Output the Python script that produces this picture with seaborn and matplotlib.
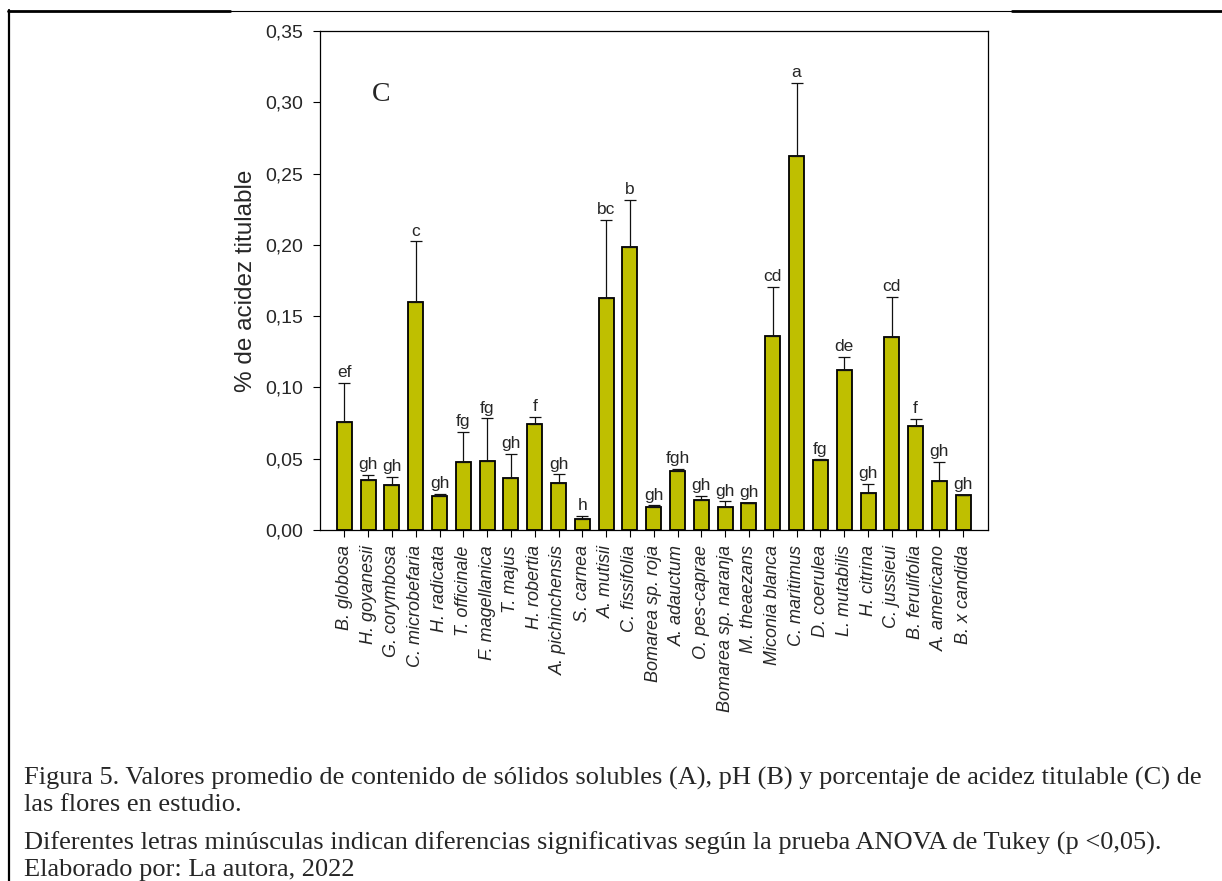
import matplotlib
matplotlib.use("Agg")
import matplotlib.pyplot as plt
import seaborn as sns
from matplotlib.lines import Line2D

# especies (eje x)
especies = ["B. globosa", "H. goyanesii", "G. corymbosa", "C. microbefaria", "H. radicata",
            "T. officinale", "F. magellanica", "T. majus", "H. robertia", "A. pichinchensis",
            "S. carnea", "A. mutisii", "C. fissifolia", "Bomarea sp. roja", "A. adauctum",
            "O. pes-caprae", "Bomarea sp. naranja", "M. theaezans", "Miconia blanca",
            "C. maritimus", "D. coerulea", "L. mutabilis", "H. citrina", "C. jussieui",
            "B. ferulifolia", "A. americano", "B. x candida"]

# % de acidez titulable (media) y error superior
acidez = [0.076, 0.0351, 0.0313, 0.160, 0.0238, 0.0477, 0.0486, 0.0365, 0.0746, 0.0332,
          0.0075, 0.1625, 0.1987, 0.0163, 0.0416, 0.0208, 0.0164, 0.0189, 0.1363,
          0.2626, 0.0489, 0.1122, 0.0257, 0.1356, 0.0732, 0.0346, 0.0248]
error = [0.0273, 0.0037, 0.0057, 0.0425, 0.0017, 0.0210, 0.0297, 0.0168, 0.0049, 0.0058,
         0.0023, 0.0552, 0.0328, 0.0010, 0.0010, 0.0033, 0.0037, 0.0003, 0.0344,
         0.0512, 0.0007, 0.0091, 0.0068, 0.0278, 0.0049, 0.0131, 0.0]

# letras de Tukey
letras = ["ef", "gh", "gh", "c", "gh", "fg", "fg", "gh", "f", "gh", "h", "bc", "b", "gh",
          "fgh", "gh", "gh", "gh", "cd", "a", "fg", "de", "gh", "cd", "f", "gh", "gh"]

yticks = [0.0, 0.05, 0.10, 0.15, 0.20, 0.25, 0.30, 0.35]

caption = [
    "Figura 5. Valores promedio de contenido de sólidos solubles (A), pH (B) y porcentaje de acidez titulable (C) de",
    "las flores en estudio.",
    "Diferentes letras minúsculas indican diferencias significativas según la prueba ANOVA de Tukey (p <0,05).",
    "Elaborado por: La autora, 2022",
]

sns.set_style("ticks")
plt.rcParams["font.family"] = ["Liberation Sans", "DejaVu Sans"]

W, H = 1222, 881
fig = plt.figure(figsize=(W / 100, H / 100), dpi=100)
ax = fig.add_axes([320 / W, 1 - 530 / H, 668 / W, 499 / H])

sns.barplot(x=especies, y=acidez, color="#BFBF00", saturation=1, width=0.63,
            edgecolor="black", linewidth=1.3, errorbar=None, ax=ax)

pos = list(range(len(especies)))
ax.errorbar(pos, acidez, yerr=[[0] * len(error), error], fmt="none",
            ecolor="#111111", elinewidth=0.9, capsize=4.5, capthick=0.9, zorder=1)

for i, (v, e, l) in enumerate(zip(acidez, error, letras)):
    ax.annotate(l, (i, v + e), xytext=(0, 2), textcoords="offset points",
                ha="center", va="bottom", fontsize=12.5)

ax.set_xlim(-1.02, 27.04)
ax.set_ylim(0, 0.35)
ax.set_yticks(yticks)
ax.set_yticklabels([f"{t:.2f}".replace(".", ",") for t in yticks], fontsize=14)
ax.set_xticks(pos)
ax.set_xticklabels(especies, rotation=90, fontsize=13, style="italic")
ax.tick_params(axis="both", direction="out", length=5, width=0.8, color="black")
ax.tick_params(axis="y", pad=7)
ax.tick_params(axis="x", pad=6)
for s in ax.spines.values():
    s.set_visible(True)
    s.set_linewidth(0.9)
    s.set_color("black")

ax.set_ylabel("% de acidez titulable", fontsize=17.5)
ax.yaxis.set_label_coords(-0.095, 0.5)
ax.set_xlabel("")

ax.text(0.0913, 0.8737, "C", transform=ax.transAxes, ha="center", va="center",
        fontsize=20, family="Liberation Serif")

# marco de la figura
fig.add_artist(Line2D([8 / W, 230 / W], [1 - 10.5 / H] * 2, color="black", lw=2,
                      transform=fig.transFigure))
fig.add_artist(Line2D([230 / W, 1012 / W], [1 - 10.5 / H] * 2, color="black", lw=0.8,
                      transform=fig.transFigure))
fig.add_artist(Line2D([1012 / W, 1 - 0.5 / W], [1 - 10.5 / H] * 2, color="black", lw=2,
                      transform=fig.transFigure))
fig.add_artist(Line2D([9 / W] * 2, [0, 1 - 10 / H], color="black", lw=1.6,
                      transform=fig.transFigure))

ys = [778, 805, 843, 870]
for y, line in zip(ys, caption):
    fig.text(24 / W, 1 - y / H, line, ha="left", va="center", fontsize=19,
             family="Liberation Serif")

fig.savefig("out.png", dpi=100)
